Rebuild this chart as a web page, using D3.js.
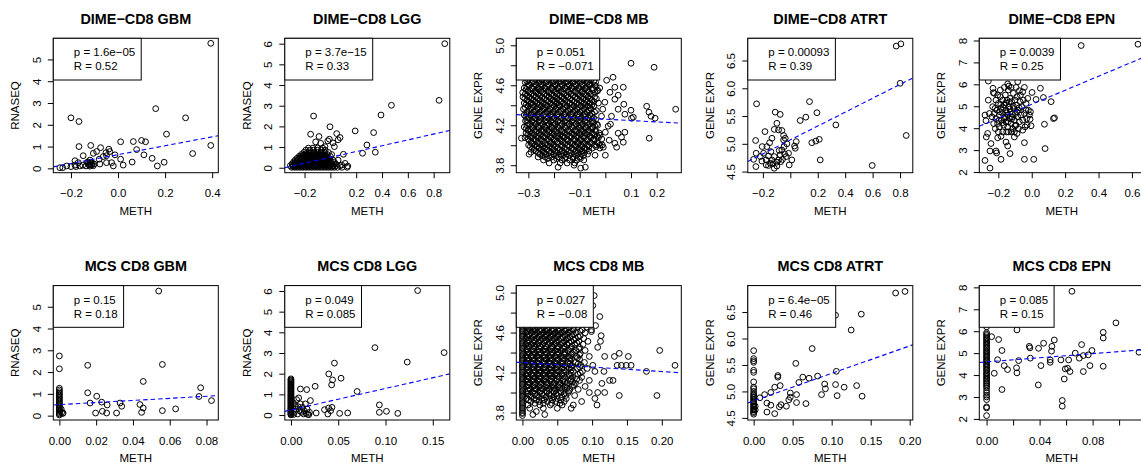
<!DOCTYPE html>
<html><head><meta charset="utf-8">
<script src="https://cdn.jsdelivr.net/npm/d3@7"></script>
<style>body{margin:0;background:#fff}svg{display:block}text{font-family:"Liberation Sans",Arial,Helvetica,sans-serif;fill:#000}</style>
</head><body><svg id="chart" width="1141" height="464"></svg>
<script>
// ---------------- DATA ----------------
const panelTitles = ["DIME\u2212CD8 GBM","DIME\u2212CD8 LGG","DIME\u2212CD8 MB","DIME\u2212CD8 ATRT","DIME\u2212CD8 EPN",
                     "MCS CD8 GBM","MCS CD8 LGG","MCS CD8 MB","MCS CD8 ATRT","MCS CD8 EPN"];
const yAxisTitles = ["RNASEQ","RNASEQ","GENE EXPR","GENE EXPR","GENE EXPR","RNASEQ","RNASEQ","GENE EXPR","GENE EXPR","GENE EXPR"];
const xAxisTitle = "METH";
const pValues = ["1.6e\u221205","3.7e\u221215","0.051","0.00093","0.0039","0.15","0.049","0.027","6.4e\u221205","0.085"];
const rValues = ["0.52","0.33","\u22120.071","0.39","0.25","0.18","0.085","\u22120.08","0.46","0.15"];
const fitIntercepts = [0.63,0.50,4.26,5.07,5.09,0.506,0.245,4.30,4.82,4.60];
const fitSlopes = [2.04,1.41,-0.133,1.25,3.2,4.8,10.4,-0.45,5.2,4.7];

const xDomains = [[-0.275,0.426],[-0.353,0.925],[-0.347,0.296],[-0.31,0.893],[-0.314,0.674],
                  [-0.0033,0.0864],[-0.0065,0.168],[-0.0088,0.228],[-0.0075,0.204],[-0.0055,0.119]];
const yDomains = [[-0.2,5.97],[-0.24,6.26],[3.725,5.07],[4.48,6.9],[1.97,8.1],
                  [-0.2,5.97],[-0.24,6.26],[3.725,5.07],[4.46,7.0],[1.95,8.08]];

const xTicks = [[-0.2,0,0.2,0.4],[-0.2,0,0.2,0.4,0.6,0.8],[-0.3,-0.2,-0.1,0,0.1,0.2],[-0.2,0,0.2,0.4,0.6,0.8],[-0.2,0,0.2,0.4,0.6],
                [0,0.02,0.04,0.06,0.08],[0,0.05,0.1,0.15],[0,0.05,0.1,0.15,0.2],[0,0.05,0.1,0.15,0.2],[0,0.02,0.04,0.06,0.08,0.1]];
const xTickLabels = [["\u22120.2","0.0","0.2","0.4"],["\u22120.2","","0.2","0.4","0.6","0.8"],["\u22120.3","","\u22120.1","","0.1","0.2"],
                     ["\u22120.2","","0.2","0.4","0.6","0.8"],["\u22120.2","0.0","0.2","0.4","0.6"],
                     ["0.00","0.02","0.04","0.06","0.08"],["0.00","0.05","0.10","0.15"],["0.00","0.05","0.10","0.15","0.20"],
                     ["0.00","0.05","0.10","0.15","0.20"],["0.00","","0.04","","0.08",""]];
const yTicks = [[0,1,2,3,4,5],[0,1,2,3,4,5,6],[3.8,4.0,4.2,4.4,4.6,4.8,5.0],[4.5,5,5.5,6,6.5],[2,3,4,5,6,7,8],
                [0,1,2,3,4,5],[0,1,2,3,4,5,6],[3.8,4.0,4.2,4.4,4.6,4.8,5.0],[4.5,5,5.5,6,6.5],[2,3,4,5,6,7,8]];
const yTickLabels = [["0","1","2","3","4","5"],["0","1","2","3","4","5","6"],["3.8","","4.2","","4.6","","5.0"],
                     ["4.5","5.0","5.5","6.0","6.5"],["2","3","4","5","6","7","8"],
                     ["0","1","2","3","4","5"],["0","1","2","3","4","5","6"],["3.8","","4.2","","4.6","","5.0"],
                     ["4.5","5.0","5.5","6.0","6.5"],["2","3","4","5","6","7","8"]];

// Panel 1: DIME-CD8 GBM  [METH, RNASEQ]
const dimeGbm = [[0.394,5.74],[0.16,2.74],[0.287,2.32],[-0.2,2.32],[-0.166,2.15],[0.206,1.57],[0.394,1.05],[0.317,0.68],[-0.166,1.0],[-0.116,1.05],[-0.074,0.95],[-0.039,0.88],[0.011,1.22],[0.065,1.23],[0.1,1.28],[0.117,1.22],[0.079,0.86],[0.11,0.62],[0.145,0.46],[0.167,0.11],[0.196,0.28],[0.06,0.29],[0.022,0.15],[-0.02,0.11],[-0.027,0.26],[0.011,0.42],[-0.063,0.54],[-0.051,0.72],[-0.091,0.77],[-0.105,0.69],[-0.148,0.58],[-0.119,0.38],[-0.08,0.42],[-0.077,0.2],[-0.102,0.2],[-0.131,0.26],[-0.122,0.15],[-0.112,0.15],[-0.169,0.26],[-0.183,0.35],[-0.162,0.11],[-0.179,0.08],[-0.2,0.08],[-0.247,0.03],[-0.235,0.03],[-0.218,0.11],[-0.15,0.14],[-0.049,0.58],[-0.035,0.77],[-0.013,0.62],[-0.049,0.26],[-0.183,0.15],[-0.136,0.11],[-0.116,0.28],[-0.125,0.22],[-0.118,0.18],[-0.128,0.3],[-0.11,0.25],[-0.12,0.1],[-0.105,0.12]];

// Panel 2: DIME-CD8 LGG
const dimeLgg = [[0.886,6.0],[0.842,3.26],[0.473,3.02],[0.392,2.55],[0.335,1.7],[0.192,1.78],[0.283,1.1],[0.348,0.75],[0.249,0.7],[-0.13,2.5],[-0.153,1.62],[-0.088,1.51],[-0.003,1.98],[0.049,1.65],[0.075,1.46],[-0.008,1.38],[-0.075,1.18],[-0.114,1.25],[-0.042,1.02],[0.031,1.02],[0.101,0.65],[0.114,0.21],[0.135,0.08],[0.088,0.13],[0.06,1.35],[0.02,1.2],[-0.02,1.3]];
const dimeLggRows = [
 [0.02,-0.3,-0.278,-0.256,-0.234,-0.212,-0.19,-0.168,-0.146,-0.124,-0.102,-0.08,-0.058,-0.036,-0.014,0.008,0.03,0.055,0.09,0.13],
 [0.06,-0.289,-0.267,-0.245,-0.223,-0.201,-0.179,-0.157,-0.135,-0.113,-0.091,-0.069,-0.047,-0.025,-0.003,0.019],
 [0.1,-0.31,-0.287,-0.265,-0.243,-0.221,-0.199,-0.177,-0.155,-0.133,-0.111,-0.089,-0.067,-0.045,-0.023,-0.001,0.021,0.045,0.075],
 [0.15,-0.285,-0.263,-0.241,-0.219,-0.197,-0.175,-0.153,-0.131,-0.109,-0.087,-0.065,-0.043,-0.021,0.003],
 [0.19,-0.296,-0.274,-0.252,-0.23,-0.208,-0.186,-0.164,-0.142,-0.12,-0.098,-0.076,-0.054,-0.032,-0.01,0.015,0.04],
 [0.24,-0.274,-0.252,-0.23,-0.208,-0.186,-0.164,-0.142,-0.12,-0.098,-0.076,-0.054,-0.032,-0.008],
 [0.28,-0.285,-0.263,-0.241,-0.219,-0.197,-0.175,-0.153,-0.131,-0.109,-0.087,-0.065,-0.043,-0.021,0.003,0.03],
 [0.33,-0.262,-0.24,-0.218,-0.196,-0.174,-0.152,-0.13,-0.108,-0.086,-0.064,-0.041,-0.017],
 [0.37,-0.272,-0.25,-0.228,-0.206,-0.184,-0.162,-0.14,-0.118,-0.096,-0.074,-0.052,-0.03,-0.006,0.02,0.06],
 [0.42,-0.247,-0.225,-0.203,-0.181,-0.159,-0.137,-0.115,-0.093,-0.071,-0.048,-0.022],
 [0.46,-0.258,-0.236,-0.214,-0.192,-0.17,-0.148,-0.126,-0.104,-0.082,-0.06,-0.036,-0.01],
 [0.51,-0.23,-0.207,-0.184,-0.161,-0.138,-0.115,-0.092,-0.068,-0.043],
 [0.55,-0.242,-0.218,-0.195,-0.172,-0.149,-0.126,-0.103,-0.08,-0.056,-0.03,0.0],
 [0.6,-0.212,-0.188,-0.164,-0.14,-0.116,-0.092,-0.067,-0.04],
 [0.64,-0.225,-0.2,-0.176,-0.152,-0.128,-0.104,-0.08,-0.054,-0.025,0.01],
 [0.74,-0.205,-0.178,-0.152,-0.126,-0.1,-0.072,-0.045,-0.015],
 [0.85,-0.19,-0.16,-0.13,-0.1,-0.07,-0.04],
 [0.95,-0.17,-0.135,-0.1,-0.06]];

// Panel 3: DIME-CD8 MB  (rows: [GENE EXPR, METH...])
const dimeMbRows = [
 [4.655,-0.30,-0.272,-0.246,-0.221,-0.193,-0.166,-0.14,-0.112,-0.084,-0.058],
 [4.641,-0.306,-0.28,-0.253,-0.227,-0.2,-0.173,-0.147,-0.12,-0.092,-0.066,-0.045],
 [4.628,-0.312,-0.285,-0.259,-0.232,-0.206,-0.179,-0.152,-0.126,-0.097,-0.07,-0.038],
 [4.614,-0.3,-0.276,-0.25,-0.223,-0.197,-0.172,-0.146,-0.118,-0.09,-0.061],
 [4.601,-0.296,-0.27,-0.249,-0.221,-0.195,-0.168,-0.141,-0.115,-0.089,-0.063,-0.041],
 [4.586,-0.306,-0.279,-0.254,-0.228,-0.202,-0.176,-0.15,-0.123,-0.096,-0.07,-0.036],
 [4.572,-0.316,-0.286,-0.261,-0.236,-0.209,-0.184,-0.158,-0.131,-0.104,-0.077,-0.05,-0.022],
 [4.557,-0.309,-0.283,-0.258,-0.231,-0.205,-0.18,-0.152,-0.126,-0.099,-0.072,-0.046],
 [4.543,-0.301,-0.274,-0.251,-0.224,-0.198,-0.173,-0.146,-0.119,-0.092,-0.066,-0.031],
 [4.527,-0.322,-0.296,-0.27,-0.245,-0.22,-0.194,-0.168,-0.142,-0.116,-0.09,-0.064,-0.04],
 [4.512,-0.312,-0.289,-0.263,-0.238,-0.211,-0.188,-0.162,-0.134,-0.106,-0.081,-0.055],
 [4.497,-0.305,-0.279,-0.254,-0.228,-0.203,-0.178,-0.152,-0.126,-0.1,-0.074],
 [4.482,-0.321,-0.296,-0.271,-0.246,-0.219,-0.194,-0.169,-0.145,-0.118,-0.094,-0.068,-0.042],
 [4.466,-0.314,-0.288,-0.262,-0.238,-0.213,-0.188,-0.161,-0.136,-0.11,-0.086,-0.061,-0.035],
 [4.451,-0.305,-0.28,-0.254,-0.229,-0.204,-0.181,-0.156,-0.129,-0.101,-0.076,-0.052],
 [4.436,-0.299,-0.273,-0.248,-0.222,-0.197,-0.173,-0.148,-0.121,-0.095,-0.07,-0.045],
 [4.422,-0.316,-0.29,-0.266,-0.241,-0.214,-0.189,-0.164,-0.139,-0.111,-0.084,-0.059,-0.027],
 [4.406,-0.309,-0.284,-0.258,-0.233,-0.207,-0.182,-0.157,-0.13,-0.104,-0.078,-0.052],
 [4.391,-0.301,-0.276,-0.249,-0.226,-0.199,-0.176,-0.149,-0.121,-0.094,-0.069,-0.045],
 [4.376,-0.312,-0.287,-0.262,-0.236,-0.211,-0.186,-0.159,-0.133,-0.106,-0.079,-0.06],
 [4.362,-0.319,-0.291,-0.264,-0.239,-0.216,-0.191,-0.164,-0.136,-0.109,-0.082,-0.056],
 [4.346,-0.298,-0.272,-0.247,-0.222,-0.197,-0.172,-0.145,-0.118,-0.09,-0.065,-0.035],
 [4.331,-0.305,-0.279,-0.256,-0.229,-0.204,-0.179,-0.154,-0.126,-0.099,-0.071,-0.042],
 [4.316,-0.309,-0.284,-0.259,-0.234,-0.209,-0.184,-0.157,-0.13,-0.104,-0.079,-0.052],
 [4.302,-0.316,-0.289,-0.266,-0.241,-0.214,-0.189,-0.161,-0.134,-0.109,-0.086,-0.061],
 [4.286,-0.31,-0.283,-0.258,-0.232,-0.207,-0.181,-0.154,-0.128,-0.102,-0.077,-0.054],
 [4.271,-0.299,-0.274,-0.251,-0.224,-0.199,-0.171,-0.146,-0.121,-0.094,-0.066,-0.046],
 [4.256,-0.306,-0.28,-0.255,-0.23,-0.205,-0.178,-0.152,-0.126,-0.099,-0.073,-0.038],
 [4.242,-0.311,-0.286,-0.259,-0.234,-0.211,-0.184,-0.159,-0.131,-0.104,-0.079,-0.051],
 [4.226,-0.303,-0.279,-0.253,-0.228,-0.203,-0.177,-0.151,-0.124,-0.097,-0.071,-0.046],
 [4.211,-0.294,-0.271,-0.244,-0.219,-0.196,-0.169,-0.141,-0.114,-0.089,-0.061,-0.034],
 [4.196,-0.305,-0.28,-0.254,-0.228,-0.203,-0.178,-0.151,-0.123,-0.096,-0.069,-0.042],
 [4.182,-0.316,-0.284,-0.261,-0.236,-0.209,-0.186,-0.156,-0.129,-0.101,-0.074,-0.049],
 [4.166,-0.309,-0.283,-0.258,-0.232,-0.207,-0.181,-0.154,-0.127,-0.1,-0.074,-0.052],
 [4.151,-0.301,-0.276,-0.249,-0.226,-0.201,-0.174,-0.146,-0.119,-0.094,-0.066,-0.039],
 [4.136,-0.296,-0.27,-0.245,-0.22,-0.195,-0.17,-0.143,-0.117,-0.092,-0.066,-0.037],
 [4.122,-0.309,-0.286,-0.259,-0.234,-0.209,-0.186,-0.159,-0.131,-0.104,-0.079,-0.051,-0.024],
 [4.106,-0.302,-0.277,-0.252,-0.227,-0.2,-0.175,-0.149,-0.123,-0.096,-0.071,-0.044],
 [4.091,-0.291,-0.264,-0.241,-0.216,-0.189,-0.164,-0.139,-0.111,-0.084,-0.059,-0.031],
 [4.076,-0.313,-0.288,-0.263,-0.237,-0.212,-0.186,-0.16,-0.134,-0.108,-0.082,-0.056,-0.027],
 [4.062,-0.301,-0.276,-0.251,-0.224,-0.199,-0.176,-0.149,-0.121,-0.096,-0.069,-0.044,-0.014],
 [4.046,-0.296,-0.271,-0.246,-0.22,-0.195,-0.17,-0.145,-0.12,-0.097,-0.072,-0.046],
 [4.031,-0.289,-0.264,-0.241,-0.214,-0.189,-0.166,-0.136,-0.109,-0.086,-0.059,-0.031],
 [4.016,-0.286,-0.261,-0.236,-0.212,-0.186,-0.158,-0.131,-0.107,-0.082,-0.055,-0.026],
 [4.002,-0.299,-0.274,-0.249,-0.226,-0.201,-0.171,-0.144,-0.119,-0.094,-0.069,-0.041,-0.012],
 [3.986,-0.292,-0.266,-0.242,-0.217,-0.194,-0.168,-0.14,-0.114,-0.09,-0.064,-0.036],
 [3.971,-0.284,-0.259,-0.236,-0.209,-0.186,-0.159,-0.131,-0.104,-0.079,-0.051,-0.021],
 [3.956,-0.278,-0.251,-0.227,-0.203,-0.178,-0.152,-0.125,-0.1,-0.074],
 [3.942,-0.271,-0.244,-0.219,-0.196,-0.169,-0.144,-0.116,-0.091,-0.064],
 [3.926,-0.262,-0.239,-0.213,-0.188,-0.162,-0.136,-0.108,-0.082],
 [3.911,-0.256,-0.231,-0.201,-0.174,-0.151,-0.121,-0.094,-0.069],
 [3.896,-0.247,-0.22,-0.192,-0.166,-0.14,-0.112,-0.085],
 [3.882,-0.262,-0.234,-0.209,-0.181,-0.154,-0.126,-0.099],
 [3.866,-0.225,-0.19,-0.158,-0.126,-0.097],
 [3.852,-0.241,-0.201,-0.169,-0.139,-0.111,-0.084],
 [3.822,-0.219,-0.176,-0.149,-0.119]];
const dimeMb = [[0.1,4.82],[0.19,4.78],[0.161,4.39],[0.17,4.33],[0.178,4.29],[0.194,4.27],[0.171,4.07],[0.274,4.36],[0.109,4.28],[0.005,4.65],[0.03,4.68],[0.037,4.58],[0.07,4.58],[0.037,4.46],[0.072,4.41],[0.1,4.35],[0.102,4.27],[0.018,4.53],[0.05,4.5],[-0.002,4.43],[0.024,4.29],[-0.015,4.29],[0.05,4.12],[0.063,4.08],[0.037,4.02],[0.0,3.9],[0.044,3.98],[0.07,4.03],[0.076,4.13],[0.011,4.19],[-0.021,4.1],[-0.008,3.98],[-0.04,3.9],[-0.02,4.0],[0.015,4.05],[-0.327,4.07],[-0.297,3.91],[-0.29,3.93],[-0.184,3.78],[-0.122,3.8],[-0.096,3.77],[-0.078,3.78],[-0.03,4.55],[-0.01,4.36],[0.05,4.36],[0.076,4.31],[-0.03,4.2],[0.02,4.21],[0.0,4.13]];

// Panel 4: DIME-CD8 ATRT
const dimeAtrt = [[0.772,6.76],[0.806,6.80],[0.801,6.09],[0.845,5.15],[0.597,4.61],[0.332,5.34],[0.14,5.76],[0.113,5.48],[0.072,5.42],[0.194,5.56],[0.157,5.02],[0.186,5.05],[0.211,5.08],[0.218,4.71],[-0.246,5.72],[-0.185,5.22],[-0.253,5.06],[-0.11,5.57],[-0.074,5.53],[-0.098,5.37],[-0.117,5.26],[-0.086,5.25],[-0.062,5.24],[-0.134,5.1],[-0.049,5.15],[-0.037,5.1],[-0.151,5.02],[-0.171,4.95],[-0.205,4.95],[-0.249,4.83],[-0.268,4.72],[-0.251,4.59],[-0.195,4.83],[-0.159,4.78],[-0.142,4.86],[-0.176,4.71],[-0.176,4.62],[-0.147,4.65],[-0.117,4.77],[-0.117,4.56],[-0.098,4.67],[-0.086,4.71],[-0.074,4.8],[-0.062,4.89],[-0.045,4.95],[-0.025,5.0],[-0.013,4.83],[-0.03,4.77],[-0.008,4.62],[0.011,4.71],[0.036,4.92],[0.031,4.96],[0.043,5.04],[-0.069,4.68],[-0.134,4.71],[-0.207,4.69],[-0.219,4.77],[-0.159,4.61],[-0.127,4.64],[-0.098,4.6],[-0.057,4.72],[-0.042,4.82],[-0.081,4.88],[-0.049,5.07]];

// Panel 5: DIME-CD8 EPN
const dimeEpn = [[0.296,7.77],[0.636,7.83],[-0.28,2.53],[-0.25,2.18],[-0.264,3.76],[-0.272,3.6],[-0.244,3.3],[-0.25,2.96],[-0.214,2.96],[-0.21,2.87],[-0.184,2.58],[-0.204,3.56],[-0.154,3.37],[-0.144,3.19],[-0.13,2.84],[-0.14,3.83],[-0.104,3.6],[-0.088,3.76],[-0.044,2.58],[0.012,2.58],[-0.044,3.34],[0.08,3.07],[0.076,4.18],[0.13,4.44],[0.136,4.47],[0.116,5.21],[0.07,5.4],[0.052,5.82],[0.026,5.31],[0.002,5.63],[-0.004,4.11],[-0.008,4.75],[-0.01,4.41],[-0.034,4.82],[-0.054,5.66],[-0.044,5.86],[-0.084,6.12],[-0.144,6.02],[-0.138,5.92],[-0.232,5.82],[-0.23,5.62],[-0.26,5.28],[-0.28,4.6],[-0.274,4.34],[-0.254,4.67],[-0.26,6.15],
 [-0.234,4.98],[-0.224,4.67],[-0.214,5.28],[-0.214,4.44],[-0.208,4.82],[-0.204,4.21],[-0.2,5.13],[-0.194,4.6],[-0.194,4.06],[-0.188,5.44],[-0.184,4.9],[-0.18,4.37],[-0.174,5.28],[-0.174,4.67],[-0.168,4.14],[-0.164,5.05],[-0.164,4.44],[-0.158,5.51],[-0.154,4.82],[-0.154,4.29],[-0.148,5.28],[-0.144,4.6],[-0.144,4.06],[-0.14,5.74],[-0.138,4.98],[-0.134,4.44],[-0.13,5.36],[-0.128,4.75],[-0.124,4.21],[-0.12,5.21],[-0.118,4.52],[-0.114,3.98],[-0.11,5.59],[-0.108,4.9],[-0.104,4.37],[-0.1,5.28],[-0.098,4.67],[-0.094,4.14],[-0.09,5.05],[-0.088,5.44],[-0.084,4.52],[-0.08,4.82],[-0.074,4.29],[-0.07,5.21],[-0.068,5.51],[-0.064,4.6],[-0.06,4.98],[-0.054,4.37],[-0.05,5.28],[-0.044,4.67],[-0.04,4.06],[-0.034,5.13],[-0.03,4.44],[-0.024,5.36],[-0.02,4.82],[-0.014,4.6],[-0.218,3.98],[-0.2,3.83],[-0.174,3.83],[-0.15,3.83],[-0.124,3.83],[-0.228,4.21],[-0.238,4.52],[-0.188,5.74],[-0.164,5.86],[-0.124,5.86],[-0.094,5.86],[-0.074,5.71],[-0.224,5.59],[-0.204,5.51],[-0.104,3.83],[-0.08,3.98],[-0.054,3.91],[-0.028,4.14],[-0.184,3.63],
 [-0.19,4.75],[-0.17,4.95],[-0.15,4.7],[-0.13,4.88],[-0.115,4.65],[-0.16,4.52],[-0.14,4.3],[-0.12,4.43],[-0.1,4.1],[-0.176,4.25],[-0.196,4.35],[-0.09,4.75],[-0.075,4.93],[-0.11,5.0],[-0.155,5.15],[-0.185,5.08],[-0.135,5.2],[-0.22,4.9]];

// Panel 6: MCS CD8 GBM
const mcsGbm = [[0.0154,2.31],[0.0154,1.05],[0.0167,0.58],[0.0203,0.89],[0.0197,0.12],[0.023,0.62],[0.0234,0.2],[0.0257,0.12],[0.026,0.49],[0.0311,0.12],[0.033,0.58],[0.0339,0.43],[0.0438,0.51],[0.0447,0.15],[0.0456,0.35],[0.0456,1.57],[0.054,5.72],[0.056,2.35],[0.056,0.23],[0.0632,0.31],[0.0759,0.88],[0.0768,1.28],[0.0827,0.69],[0.0012,0.15],[0.0018,0.1],[0.001,0.3],[0.002,0.12]];
const mcsGbmZeros = [2.74,2.15,1.26,1.18,1.1,1.03,0.97,0.9,0.84,0.77,0.71,0.64,0.58,0.51,0.45,0.39,0.32,0.26,0.2,0.14,0.08,0.03];

// Panel 7: MCS CD8 LGG
const mcsLgg = [[0.134,6.02],[0.0888,3.26],[0.162,3.02],[0.123,2.56],[0.046,2.51],[0.04,1.99],[0.053,1.78],[0.044,1.7],[0.043,1.46],[0.07,1.14],[0.0256,1.39],[0.01,1.26],[0.0167,1.23],[0.0082,0.83],[0.0206,0.7],[0.0153,0.54],[0.01,0.54],[0.0355,0.26],[0.0398,0.34],[0.0434,0.37],[0.042,0.21],[0.039,0.05],[0.0267,0.1],[0.0515,0.08],[0.06,0.1],[0.0935,0.49],[0.0935,0.13],[0.101,0.18],[0.113,0.08],[0.0036,0.13],[0.0053,0.29],[0.0071,0.05],[0.0089,0.21],[0.0114,0.13],[0.0135,0.05],[0.016,0.08],[0.0178,0.03],[0.0196,0.13],[0.0046,0.45],[0.0124,0.37],[0.0171,0.29],[0.0025,0.6],[0.006,0.75],[0.0028,0.03],[0.0189,0.02],[0.0142,0.2],[0.0078,0.4]];
const mcsLggZeros = [0.01,0.04,0.08,0.11,0.16,0.19,0.24,0.27,0.31,0.36,0.4,0.44,0.49,0.53,0.58,0.62,0.66,0.71,0.75,0.8,0.84,0.89,0.93,0.98,1.02,1.07,1.12,1.16,1.21,1.26,1.3,1.35,1.4,1.45,1.5,1.55,1.6,1.65,1.7,1.75];

// Panel 8: MCS CD8 MB
const mcsMbRows = [
 [4.655,0.006,0.014,0.022,0.031,0.039,0.048,0.057,0.067,0.079,0.092],
 [4.641,0.008,0.016,0.026,0.035,0.044,0.053,0.063,0.074],
 [4.627,0.01,0.018,0.026,0.035,0.043,0.052,0.062,0.073,0.086,0.099],
 [4.612,0.007,0.016,0.025,0.034,0.043,0.052,0.061,0.071,0.083],
 [4.598,0.005,0.013,0.021,0.03,0.038,0.047,0.056,0.066,0.077,0.09],
 [4.583,0.009,0.018,0.027,0.035,0.044,0.053,0.063,0.073],
 [4.569,0.009,0.017,0.025,0.034,0.042,0.051,0.061,0.071,0.083,0.113],
 [4.555,0.007,0.015,0.023,0.032,0.04,0.049,0.058,0.068,0.08],
 [4.541,0.005,0.013,0.021,0.029,0.038,0.046,0.055,0.065,0.076,0.088],
 [4.526,0.009,0.017,0.026,0.034,0.043,0.052,0.063,0.074],
 [4.512,0.009,0.017,0.025,0.033,0.042,0.05,0.06,0.07,0.081,0.094,0.112],
 [4.497,0.007,0.015,0.023,0.031,0.04,0.048,0.058,0.067,0.078],
 [4.482,0.005,0.013,0.021,0.029,0.037,0.046,0.055,0.064,0.075,0.087],
 [4.467,0.009,0.017,0.025,0.033,0.042,0.05,0.06,0.071],
 [4.452,0.009,0.017,0.026,0.034,0.042,0.051,0.06,0.07,0.082,0.108],
 [4.436,0.007,0.015,0.024,0.032,0.041,0.05,0.059,0.069,0.081],
 [4.421,0.006,0.014,0.022,0.03,0.039,0.047,0.056,0.066,0.077,0.09,0.197],
 [4.406,0.008,0.016,0.024,0.033,0.042,0.051,0.061,0.073],
 [4.392,0.01,0.018,0.026,0.035,0.043,0.052,0.061,0.071,0.083,0.139],
 [4.376,0.007,0.015,0.024,0.032,0.041,0.05,0.06,0.07,0.082],
 [4.361,0.005,0.013,0.021,0.03,0.038,0.047,0.056,0.066,0.078,0.096,0.118,0.132,0.152],
 [4.346,0.007,0.015,0.023,0.032,0.04,0.049,0.058,0.068,0.079],
 [4.332,0.009,0.017,0.025,0.034,0.042,0.051,0.06,0.07,0.082],
 [4.316,0.007,0.015,0.023,0.031,0.04,0.049,0.058,0.068],
 [4.301,0.005,0.013,0.021,0.03,0.038,0.047,0.056,0.065,0.076,0.089],
 [4.286,0.007,0.015,0.024,0.032,0.04,0.049,0.058,0.068,0.08],
 [4.272,0.009,0.017,0.026,0.034,0.043,0.051,0.061,0.071,0.084,0.101,0.136,0.142,0.149,0.156,0.219],
 [4.256,0.008,0.016,0.024,0.032,0.041,0.05,0.059,0.07,0.082],
 [4.241,0.006,0.014,0.022,0.031,0.039,0.048,0.057,0.067,0.079,0.093],
 [4.226,0.008,0.016,0.024,0.033,0.041,0.05,0.06,0.07],
 [4.211,0.01,0.018,0.026,0.035,0.043,0.052,0.062,0.073,0.086,0.104,0.117,0.178],
 [4.196,0.007,0.016,0.024,0.032,0.041,0.049,0.059,0.07,0.083],
 [4.181,0.005,0.013,0.022,0.03,0.039,0.047,0.057,0.067,0.08],
 [4.166,0.007,0.015,0.024,0.032,0.041,0.05,0.059,0.069],
 [4.152,0.009,0.018,0.026,0.034,0.043,0.052,0.061,0.072,0.085],
 [4.136,0.007,0.016,0.024,0.033,0.041,0.05,0.059,0.07,0.078],
 [4.121,0.005,0.014,0.022,0.031,0.04,0.049,0.058,0.069,0.082,0.096,0.125,0.13],
 [4.106,0.008,0.016,0.025,0.034,0.042,0.052,0.061,0.072],
 [4.091,0.01,0.018,0.027,0.036,0.045,0.054,0.064,0.076,0.114],
 [4.076,0.008,0.017,0.026,0.035,0.044,0.053,0.063,0.074],
 [4.061,0.006,0.015,0.024,0.033,0.042,0.051,0.061,0.072,0.09],
 [4.046,0.009,0.018,0.027,0.036,0.045,0.054,0.064],
 [4.031,0.011,0.02,0.029,0.038,0.047,0.057,0.068,0.08],
 [4.016,0.008,0.017,0.026,0.035,0.045,0.055,0.067],
 [4.0,0.005,0.015,0.025,0.035,0.045,0.055,0.066,0.096,0.108,0.118],
 [3.985,0.008,0.018,0.028,0.038,0.048,0.06],
 [3.97,0.01,0.02,0.03,0.04,0.05,0.062,0.075,0.139,0.193],
 [3.955,0.012,0.023,0.034,0.045,0.057],
 [3.94,0.006,0.017,0.028,0.039,0.05,0.063,0.104],
 [3.925,0.009,0.02,0.031,0.043,0.055],
 [3.91,0.012,0.024,0.036,0.048,0.06,0.085],
 [3.892,0.018,0.03,0.042,0.054],
 [3.875,0.008,0.025,0.04,0.057,0.073,0.107],
 [3.842,0.0105,0.03,0.05,0.07],
 [3.81,0.02],
 [3.78,0.015,0.032]];
const mcsMb = [[0.103,4.97],[0.101,4.87],[0.111,4.76],[0.105,4.67],[0.099,4.61]];
const mcsMbZeros = [3.77,3.79,3.8,3.82,3.84,3.85,3.87,3.89,3.9,3.92,3.94,3.96,3.97,3.99,4.01,4.02,4.04,4.06,4.08,4.09,4.11,4.13,4.14,4.16,4.18,4.2,4.21,4.23,4.25,4.26,4.28,4.3,4.32,4.33,4.35,4.37,4.38,4.4,4.42,4.44,4.45,4.47,4.49,4.5,4.52,4.54,4.56,4.57,4.59,4.61,4.62,4.64,4.66];

// Panel 9: MCS CD8 ATRT
const mcsAtrt = [[0.194,6.89],[0.182,6.86],[0.138,6.46],[0.105,6.44],[0.125,6.16],[0.075,5.81],[0.054,5.53],[0.106,5.38],[0.082,5.29],[0.071,5.25],[0.063,5.27],[0.058,5.17],[0.031,5.3],[0.031,5.27],[0.034,5.11],[0.027,5.08],[0.022,4.98],[0.014,4.94],[0.017,4.78],[0.017,4.61],[0.022,4.74],[0.027,4.58],[0.035,4.75],[0.033,4.71],[0.042,4.72],[0.045,4.84],[0.047,4.89],[0.047,4.97],[0.055,4.94],[0.055,4.79],[0.067,4.77],[0.087,4.94],[0.091,5.14],[0.092,5.05],[0.105,5.13],[0.107,4.92],[0.116,5.08],[0.132,5.11],[0.139,4.91],[0.008,4.88],[0.002,4.72],[0.002,4.65]];
const mcsAtrtZeros = [4.57,4.6,4.62,4.65,4.67,4.7,4.72,4.75,4.77,4.8,4.82,4.85,4.88,4.9,4.93,4.96,5.0,5.05,5.08,5.18,5.36,5.4,5.55,5.58,5.62,5.77];

// Panel 10: MCS CD8 EPN
const mcsEpn = [[0.0644,7.82],[0.0976,6.38],[0.088,5.95],[0.088,5.69],[0.088,4.4],[0.115,5.04],[0.0795,5.12],[0.0717,5.39],[0.0669,5.0],[0.07,4.77],[0.073,4.89],[0.0767,4.92],[0.078,4.43],[0.073,4.16],[0.0619,4.69],[0.0611,4.31],[0.0629,4.16],[0.0594,4.28],[0.0561,4.69],[0.0586,3.82],[0.0571,2.84],[0.0571,2.58],[0.0511,5.6],[0.043,5.45],[0.0493,5.31],[0.049,5.09],[0.048,4.69],[0.048,4.58],[0.041,4.43],[0.0392,5.22],[0.039,3.55],[0.0322,5.31],[0.0327,5.24],[0.033,4.77],[0.0229,6.06],[0.0242,4.66],[0.0226,4.33],[0.0229,4.1],[0.0158,4.25],[0.0133,4.43],[0.0116,5.12],[0.0116,3.34],[0.0091,5.62],[0.0083,4.7],[0.0058,4.08],[0.0038,5.75]];
const mcsEpnZeros = [2.15,2.5,2.55,2.88,3.0,3.08,3.2,3.3,3.42,3.5,3.58,3.65,3.72,3.8,3.86,3.93,4.0,4.06,4.12,4.2,4.26,4.33,4.4,4.46,4.52,4.6,4.66,4.72,4.8,4.86,4.92,5.0,5.06,5.12,5.2,5.26,5.33,5.4,5.46,5.52,5.6,5.66,5.72,5.8,5.86,5.93,6.2];

// ---------------- BUILD ----------------
function fromRows(rows){ const out=[]; rows.forEach(r=>{ for(let k=1;k<r.length;k++) out.push([r[k], r[0]]); }); return out; }
function atZero(ys){ return ys.map(v=>[0,v]); }
const panelPoints = [
  dimeGbm,
  dimeLgg.concat(fromRows(dimeLggRows)),
  fromRows(dimeMbRows).concat(dimeMb),
  dimeAtrt,
  dimeEpn,
  mcsGbm.concat(atZero(mcsGbmZeros)),
  mcsLgg.concat(atZero(mcsLggZeros)),
  fromRows(mcsMbRows).concat(mcsMb, atZero(mcsMbZeros)),
  mcsAtrt.concat(atZero(mcsAtrtZeros)),
  mcsEpn.concat(atZero(mcsEpnZeros))
];

const svg = d3.select("#chart");
svg.append("rect").attr("width",1141).attr("height",464).attr("fill","#fff");
const W = 165, H = 134.4, X0 = 53.3, Y0 = 38.3, DX = 231.5, DY = 247.3;
const FS = 11.5;

panelPoints.forEach((pts, i) => {
  const c = i % 5, r = Math.floor(i / 5);
  const g = svg.append("g").attr("transform", `translate(${X0 + c*DX},${Y0 + r*DY})`);
  const x = d3.scaleLinear().domain(xDomains[i]).range([0, W]);
  const y = d3.scaleLinear().domain(yDomains[i]).range([H, 0]);
  const clipId = "clip" + i;
  g.append("clipPath").attr("id", clipId).append("rect").attr("width", W).attr("height", H);

  // points
  g.append("g").selectAll("circle").data(pts).join("circle")
    .attr("cx", d => x(d[0])).attr("cy", d => y(d[1])).attr("r", 2.9)
    .attr("fill", "none").attr("stroke", "#000").attr("stroke-width", 1);

  // fit line
  const [xa, xb] = xDomains[i];
  g.append("line").attr("clip-path", `url(#${clipId})`)
    .attr("x1", x(xa)).attr("y1", y(fitIntercepts[i] + fitSlopes[i]*xa))
    .attr("x2", x(xb)).attr("y2", y(fitIntercepts[i] + fitSlopes[i]*xb))
    .attr("stroke", "#0000ff").attr("stroke-width", 1.1).attr("stroke-dasharray", "4.5,3");

  // x axis
  const xa_ = g.append("g").attr("transform", `translate(0,${H})`)
    .call(d3.axisBottom(x).tickValues(xTicks[i]).tickFormat((d, j) => xTickLabels[i][j]).tickSizeInner(5.5).tickSizeOuter(0));
  xa_.attr("font-size", null).attr("font-family", null);
  xa_.select(".domain").remove();
  xa_.selectAll("line").attr("stroke", "#000");
  xa_.selectAll("text").attr("y", 24.7).attr("dy", null).style("font-size", FS + "px");

  // y axis
  const ya_ = g.append("g")
    .call(d3.axisLeft(y).tickValues(yTicks[i]).tickFormat((d, j) => yTickLabels[i][j]).tickSizeInner(5.5).tickSizeOuter(0));
  ya_.attr("font-size", null).attr("font-family", null);
  ya_.select(".domain").remove();
  ya_.selectAll("line").attr("stroke", "#000");
  ya_.selectAll("text").attr("x", null).attr("dy", null).attr("text-anchor", "middle")
    .attr("transform", "translate(-12.5,0) rotate(-90)").style("font-size", FS + "px");

  // box
  g.append("rect").attr("width", W).attr("height", H).attr("fill", "none").attr("stroke", "#000").attr("stroke-width", 1);

  // titles
  g.append("text").attr("x", W/2).attr("y", -14.8).attr("text-anchor", "middle")
    .style("font-size", "14.4px").style("font-weight", "bold").text(panelTitles[i]);
  g.append("text").attr("x", W/2).attr("y", H + 42).attr("text-anchor", "middle")
    .style("font-size", FS + "px").text(xAxisTitle);
  g.append("text").attr("transform", `translate(-34,${H/2}) rotate(-90)`).attr("text-anchor", "middle")
    .style("font-size", FS + "px").text(yAxisTitles[i]);

  // legend
  const lg = g.append("g");
  const box = lg.append("rect").attr("x", 0).attr("y", 0).attr("height", 41.7)
    .attr("fill", "#fff").attr("stroke", "#000").attr("stroke-width", 1);
  const t1 = lg.append("text").attr("x", 20.5).attr("y", 18.2).style("font-size", FS + "px").text("p = " + pValues[i]);
  const t2 = lg.append("text").attr("x", 20.5).attr("y", 32.2).style("font-size", FS + "px").text("R = " + rValues[i]);
  const tw = Math.max(t1.node().getComputedTextLength(), t2.node().getComputedTextLength());
  box.attr("width", 20.5 + tw + 6);
});
</script>
</body></html>
